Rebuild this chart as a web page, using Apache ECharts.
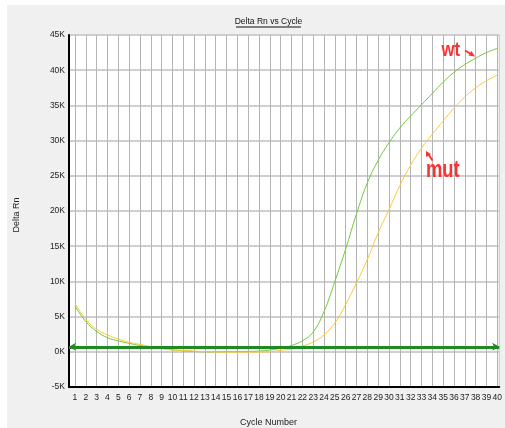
<!DOCTYPE html>
<html><head><meta charset="utf-8">
<script src="https://cdn.jsdelivr.net/npm/echarts@6/dist/echarts.min.js"></script>
<style>
html,body{margin:0;padding:0;background:#fff;}
#bg{position:absolute;left:7px;top:5px;width:498px;height:423px;background:#f0f0f0;}
#main{position:absolute;left:0;top:0;width:505px;height:428px;}
</style></head><body>
<div id="bg"></div><div id="main"></div>
<script>
const cycles = [1,2,3,4,5,6,7,8,9,10,11,12,13,14,15,16,17,18,19,20,21,22,23,24,25,26,27,28,29,30,31,32,33,34,35,36,37,38,39,40];
const wt = [6500,4300,2900,2000,1550,1200,900,700,500,300,150,50,0,-20,0,20,50,100,250,500,900,1550,2800,5700,10000,14600,19600,24000,27200,29700,31800,33500,35100,36700,38300,39700,40800,41700,42500,43100];
const mut = [6900,4600,3200,2400,1800,1350,1050,750,450,250,200,100,20,-30,-50,-50,-50,-30,0,200,400,800,1400,2400,4100,6700,9800,13100,16900,20200,23600,26500,28900,30900,32800,34600,36200,37500,38500,39300];
const threshold = 700;
const yTicks = [-5000,0,5000,10000,15000,20000,25000,30000,35000,40000,45000];

const chart = echarts.init(document.getElementById('main'), null, {renderer:'canvas'});
const F = 'Liberation Sans, Arial, sans-serif';
chart.setOption({
  animation:false,
  backgroundColor:'transparent',
  grid:{left:69,right:5,top:35,bottom:41,show:true,backgroundColor:'#ffffff',borderColor:'#c4c4c4',borderWidth:1},
  xAxis:{type:'value',min:0.45,max:40.18,
    axisLine:{show:true,onZero:false,lineStyle:{color:'#000',width:2}},
    axisTick:{show:false,customValues:cycles},
    axisLabel:{customValues:cycles,fontFamily:F,fontSize:8.5,color:'#222',margin:6},
    splitLine:{show:true,lineStyle:{color:'#b4b4b4',width:1}}},
  yAxis:{type:'value',min:yTicks[0],max:yTicks[yTicks.length-1],interval:5000,
    axisLine:{show:true,onZero:false,lineStyle:{color:'#000',width:2}},
    axisTick:{show:false},
    axisLabel:{fontFamily:F,fontSize:8.5,color:'#222',margin:4,formatter:v=>(v/1000)+'K'},
    splitLine:{show:true,lineStyle:{color:'#cfcfcf',width:2}}},
  series:[
    {name:'wt',type:'line',data:cycles.map((c,i)=>[c,wt[i]]),showSymbol:false,smooth:0.4,
     lineStyle:{color:'#74c83c',width:1},itemStyle:{color:'#74c83c'},z:3},
    {name:'mut',type:'line',data:cycles.map((c,i)=>[c,mut[i]]),showSymbol:false,smooth:0.4,
     lineStyle:{color:'#ffc83c',width:1},itemStyle:{color:'#ffc83c'},z:4,
     markLine:{silent:true,symbol:['arrow','arrow'],symbolSize:[6,7],
       label:{show:false},lineStyle:{color:'#1f8a1f',width:3,type:'solid'},
       data:[{yAxis:threshold}],z:10}}
  ],
  graphic:[
    {type:'text',x:268.5,y:22,z:20,style:{text:'Delta Rn vs Cycle',fontFamily:F,fontSize:8.5,fill:'#111',align:'center',verticalAlign:'middle'}},
    {type:'line',z:20,shape:{x1:236,y1:27,x2:301,y2:27},style:{stroke:'#111',lineWidth:1}},
    {type:'text',x:17,y:215,rotation:Math.PI/2,z:20,style:{text:'Delta Rn',fontFamily:F,fontSize:9,fill:'#222',align:'center',verticalAlign:'middle'}},
    {type:'text',x:268.5,y:423,z:20,style:{text:'Cycle Number',fontFamily:F,fontSize:9,fill:'#222',align:'center',verticalAlign:'middle'}},
    {type:'text',x:441.5,y:50,z:30,scaleX:0.83,style:{text:'wt',fontFamily:F,fontSize:20,fontWeight:'bold',fill:'#ff3030',align:'left',verticalAlign:'middle'}},
    {type:'line',z:30,shape:{x1:465,y1:50.5,x2:471,y2:54},style:{stroke:'#ff3030',lineWidth:2}},
    {type:'polygon',z:30,shape:{points:[[475,56.5],[468.5,55.5],[471.5,51]]},style:{fill:'#ff3030'}},
    {type:'text',x:426,y:171,z:30,scaleX:0.8,style:{text:'mut',fontFamily:F,fontSize:23,fontWeight:'bold',fill:'#ff3030',align:'left',verticalAlign:'middle'}},
    {type:'line',z:30,shape:{x1:432.5,y1:160.5,x2:428.5,y2:154.5},style:{stroke:'#ff3030',lineWidth:2}},
    {type:'polygon',z:30,shape:{points:[[426,151],[426,157],[431,154]]},style:{fill:'#ff3030'}}
  ]
});
</script></body></html>
